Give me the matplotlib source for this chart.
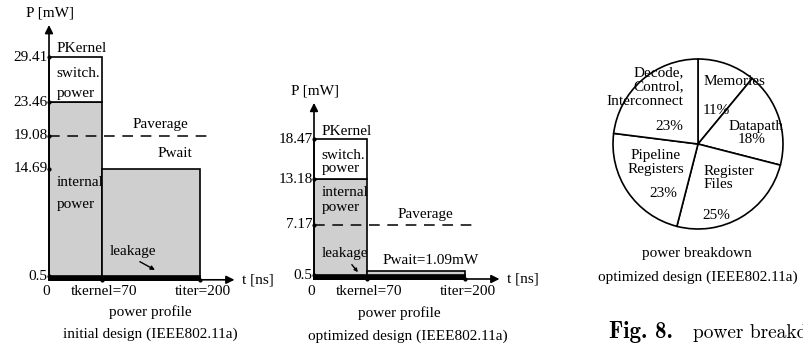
import matplotlib.pyplot as plt

plt.rcParams['font.family'] = ['Liberation Serif', 'DejaVu Serif']

# power profile, initial design
init_t_kernel = 70
init_t_iter = 200
init_p_kernel = 29.41
init_p_internal = 23.46
init_p_average = 19.08
init_p_wait = 14.69
init_p_leak = 0.5
init_ticks = [29.41, 23.46, 19.08, 14.69, 0.5]

# power profile, optimized design
opt_t_kernel = 70
opt_t_iter = 200
opt_p_kernel = 18.47
opt_p_internal = 13.18
opt_p_average = 7.17
opt_p_wait = 1.09
opt_p_leak = 0.5
opt_ticks = [18.47, 13.18, 7.17, 0.5]

# power breakdown, optimized design
pie_labels = ['Memories', 'Datapath', 'Register\nFiles', 'Pipeline\nRegisters',
              'Decode,\nControl,\nInterconnect']
pie_shares = [11, 18, 25, 23, 23]

GRAY = '#cfcfcf'
FS = 11
W, H = 804, 349
SX, SY = 0.757, 7.56   # px per ns, px per mW

fig = plt.figure(figsize=(W / 100, H / 100), dpi=100)


def make_axes(left_px, width_px, x0_px, y0_px):
    ax = fig.add_axes([left_px / W, 0, width_px / W, 1])
    ax.set_xlim((left_px - x0_px) / SX, (left_px + width_px - x0_px) / SX)
    ax.set_ylim((y0_px - H) / SY, y0_px / SY)
    ax.axis('off')
    return ax


def draw_profile(ax, t_kernel, t_iter, p_kernel, p_internal, p_average, p_wait,
                 p_leak, ticks, y_top, wait_label, wait_pos):
    ax.bar(0, p_internal, width=t_kernel, align='edge', color=GRAY,
           edgecolor='black', linewidth=1.2)
    ax.bar(0, p_kernel - p_internal, bottom=p_internal, width=t_kernel, align='edge',
           color='white', edgecolor='black', linewidth=1.2)
    ax.bar(t_kernel, p_wait, width=t_iter - t_kernel, align='edge', color=GRAY,
           edgecolor='black', linewidth=1.2)
    ax.bar(0, p_leak, width=t_iter, align='edge', color='black', edgecolor='black',
           linewidth=1.2)
    ax.plot([0, t_iter + 13], [p_average, p_average], color='black', lw=1.1,
            dashes=(7, 5))
    # axes with arrows
    ax.annotate('', xy=(0, y_top), xytext=(0, 0),
                arrowprops=dict(arrowstyle='-|>', color='black', lw=1.2,
                                shrinkA=0, shrinkB=0, mutation_scale=12))
    ax.annotate('', xy=(t_iter + 45, 0), xytext=(0, 0),
                arrowprops=dict(arrowstyle='-|>', color='black', lw=1.2,
                                shrinkA=0, shrinkB=0, mutation_scale=12))
    ax.plot([0] * len(ticks), ticks, 'k.', ms=4)
    ax.plot([t_kernel, t_iter], [0, 0], 'k.', ms=4)
    for v in ticks:
        ax.text(-2, v, f'{v}', ha='right', va='center', fontsize=FS)
    ax.text(1, y_top + 1.6, 'P [mW]', ha='center', va='center', fontsize=FS)
    ax.text(t_iter + 55, 0, 't [ns]', ha='left', va='center', fontsize=FS)
    ax.text(-4, -1.6, '0', ha='center', va='center', fontsize=FS)
    ax.text(t_kernel + 3, -1.6, f'tkernel={t_kernel}', ha='center', va='center',
            fontsize=FS)
    ax.text(t_iter + 3, -1.6, f'titer={t_iter}', ha='center', va='center', fontsize=FS)
    ax.text(t_kernel + 40, p_average + 1.4, 'Paverage', ha='left', va='center',
            fontsize=FS)
    ax.text(wait_pos[0], wait_pos[1], wait_label, ha='left', va='center', fontsize=FS)


# initial design
ax1 = make_axes(0, 270, 49, 279.8)
draw_profile(ax1, init_t_kernel, init_t_iter, init_p_kernel, init_p_internal,
             init_p_average, init_p_wait, init_p_leak, init_ticks, 33.7,
             'Pwait', (144, init_p_wait + 2.0))
ax1.text(10, init_p_kernel + 1.2, 'PKernel', ha='left', va='center', fontsize=FS)
ax1.text(10, 27.3, 'switch.', ha='left', va='center', fontsize=FS)
ax1.text(10, 24.6, 'power', ha='left', va='center', fontsize=FS)
ax1.text(10, 12.9, 'internal', ha='left', va='center', fontsize=FS)
ax1.text(10, 9.9, 'power', ha='left', va='center', fontsize=FS)
ax1.text(80, 3.7, 'leakage', ha='left', va='center', fontsize=FS)
ax1.annotate('', xy=(140, 1.3), xytext=(120, 2.4),
             arrowprops=dict(arrowstyle='-|>', color='black', lw=1,
                             shrinkA=0, shrinkB=0, mutation_scale=6))

# optimized design
ax2 = make_axes(270, 290, 314, 279)
draw_profile(ax2, opt_t_kernel, opt_t_iter, opt_p_kernel, opt_p_internal,
             opt_p_average, opt_p_wait, opt_p_leak, opt_ticks, 23.3,
             f'Pwait={opt_p_wait}mW', (90, 2.5))
ax2.text(10, opt_p_kernel + 1.0, 'PKernel', ha='left', va='center', fontsize=FS)
ax2.text(10, 16.4, 'switch.', ha='left', va='center', fontsize=FS)
ax2.text(10, 14.6, 'power', ha='left', va='center', fontsize=FS)
ax2.text(10, 11.4, 'internal', ha='left', va='center', fontsize=FS)
ax2.text(10, 9.5, 'power', ha='left', va='center', fontsize=FS)
ax2.text(10, 3.4, 'leakage', ha='left', va='center', fontsize=FS)
ax2.annotate('', xy=(58, 0.9), xytext=(50, 1.9),
             arrowprops=dict(arrowstyle='-|>', color='black', lw=1,
                             shrinkA=0, shrinkB=0, mutation_scale=5))

# pie chart
side = 2.5 * 85
ax3 = fig.add_axes([(698 - side / 2) / W, (H - 144 - side / 2) / H, side / W, side / H])
ax3.pie(pie_shares, startangle=90, counterclock=False, radius=1,
        wedgeprops=dict(facecolor='white', edgecolor='black', linewidth=1.2))
ax3.set_xlim(-1.25, 1.25)
ax3.set_ylim(-1.25, 1.25)
ax3.text(-0.17, 0.67, pie_labels[4], ha='right', va='center', fontsize=FS,
         linespacing=1.1)
ax3.text(-0.34, 0.21, f'{pie_shares[4]}%', ha='center', va='center', fontsize=FS)
ax3.text(0.06, 0.74, pie_labels[0], ha='left', va='center', fontsize=FS)
ax3.text(0.21, 0.40, f'{pie_shares[0]}%', ha='center', va='center', fontsize=FS)
ax3.text(0.68, 0.21, pie_labels[1], ha='center', va='center', fontsize=FS)
ax3.text(0.63, 0.05, f'{pie_shares[1]}%', ha='center', va='center', fontsize=FS)
ax3.text(-0.5, -0.22, pie_labels[3], ha='center', va='center', fontsize=FS,
         linespacing=1.1)
ax3.text(-0.41, -0.58, f'{pie_shares[3]}%', ha='center', va='center', fontsize=FS)
ax3.text(0.06, -0.40, pie_labels[2], ha='left', va='center', fontsize=FS,
         linespacing=1.1)
ax3.text(0.21, -0.84, f'{pie_shares[2]}%', ha='center', va='center', fontsize=FS)

# captions
fig.text(150 / W, 1 - 312 / H, 'power profile', ha='center', va='center', fontsize=FS)
fig.text(150 / W, 1 - 334 / H, 'initial design (IEEE802.11a)', ha='center',
         va='center', fontsize=FS)
fig.text(399 / W, 1 - 313 / H, 'power profile', ha='center', va='center', fontsize=FS)
fig.text(408 / W, 1 - 336 / H, 'optimized design (IEEE802.11a)', ha='center',
         va='center', fontsize=FS)
fig.text(697 / W, 1 - 253 / H, 'power breakdown', ha='center', va='center', fontsize=FS)
fig.text(698 / W, 1 - 277 / H, 'optimized design (IEEE802.11a)', ha='center',
         va='center', fontsize=FS)
fig.text(609 / W, 1 - 338 / H, 'Fig. 8.', ha='left', va='baseline', fontsize=16.5,
         family='cmb10')
fig.text(693 / W, 1 - 338 / H, 'power breakdown', ha='left', va='baseline',
         fontsize=14, family='cmr10')

fig.savefig('out.png', dpi=100)
